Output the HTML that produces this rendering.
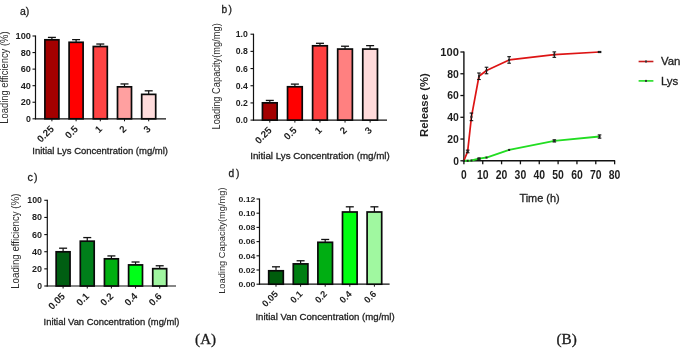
<!DOCTYPE html><html><head><meta charset="utf-8"><style>html,body{margin:0;padding:0;background:#fff;}svg{display:block;filter:blur(0.3px)}</style></head><body>
<svg width="685" height="348" viewBox="0 0 685 348">
<rect width="685" height="348" fill="#fff"/>
<line x1="35.5" y1="35.5" x2="35.5" y2="119.3" stroke="#111" stroke-width="1.2"/>
<line x1="34.9" y1="118.8" x2="166" y2="118.8" stroke="#111" stroke-width="1.2"/>
<line x1="32.5" y1="118.8" x2="35.5" y2="118.8" stroke="#111" stroke-width="1.1"/>
<text x="30.9" y="121.8" font-size="8.4" font-weight="bold" text-anchor="end" fill="#1e1e1e" font-family='"Liberation Sans", sans-serif' textLength="4.9" lengthAdjust="spacingAndGlyphs">0</text>
<line x1="32.5" y1="102.24" x2="35.5" y2="102.24" stroke="#111" stroke-width="1.1"/>
<text x="30.9" y="105.24" font-size="8.4" font-weight="bold" text-anchor="end" fill="#1e1e1e" font-family='"Liberation Sans", sans-serif' textLength="10.2" lengthAdjust="spacingAndGlyphs">20</text>
<line x1="32.5" y1="85.68" x2="35.5" y2="85.68" stroke="#111" stroke-width="1.1"/>
<text x="30.9" y="88.68" font-size="8.4" font-weight="bold" text-anchor="end" fill="#1e1e1e" font-family='"Liberation Sans", sans-serif' textLength="10.2" lengthAdjust="spacingAndGlyphs">40</text>
<line x1="32.5" y1="69.12" x2="35.5" y2="69.12" stroke="#111" stroke-width="1.1"/>
<text x="30.9" y="72.12" font-size="8.4" font-weight="bold" text-anchor="end" fill="#1e1e1e" font-family='"Liberation Sans", sans-serif' textLength="10.2" lengthAdjust="spacingAndGlyphs">60</text>
<line x1="32.5" y1="52.56" x2="35.5" y2="52.56" stroke="#111" stroke-width="1.1"/>
<text x="30.9" y="55.56" font-size="8.4" font-weight="bold" text-anchor="end" fill="#1e1e1e" font-family='"Liberation Sans", sans-serif' textLength="10.2" lengthAdjust="spacingAndGlyphs">80</text>
<line x1="32.5" y1="36.0" x2="35.5" y2="36.0" stroke="#111" stroke-width="1.1"/>
<text x="30.9" y="39.0" font-size="8.4" font-weight="bold" text-anchor="end" fill="#1e1e1e" font-family='"Liberation Sans", sans-serif' textLength="15.4" lengthAdjust="spacingAndGlyphs">100</text>
<rect x="44.9" y="39.80879999999999" width="14.0" height="78.9912" fill="#a30000" stroke="#0a0a0a" stroke-width="1.7"/>
<line x1="51.9" y1="37.40759999999999" x2="51.9" y2="39.80879999999999" stroke="#111" stroke-width="1.2"/>
<line x1="47.9" y1="37.40759999999999" x2="55.9" y2="37.40759999999999" stroke="#111" stroke-width="1.3"/>
<line x1="51.9" y1="118.8" x2="51.9" y2="121.3" stroke="#111" stroke-width="1"/>
<text x="54.5" y="129.6" font-size="9.8" font-weight="bold" text-anchor="end" fill="#1e1e1e" font-family='"Liberation Sans", sans-serif' transform="rotate(-45 54.5 129.6)">0.25</text>
<rect x="69.1" y="42.2928" width="14.0" height="76.5072" fill="#ff0000" stroke="#0a0a0a" stroke-width="1.7"/>
<line x1="76.1" y1="39.64319999999999" x2="76.1" y2="42.2928" stroke="#111" stroke-width="1.2"/>
<line x1="72.1" y1="39.64319999999999" x2="80.1" y2="39.64319999999999" stroke="#111" stroke-width="1.3"/>
<line x1="76.1" y1="118.8" x2="76.1" y2="121.3" stroke="#111" stroke-width="1"/>
<text x="78.69999999999999" y="129.6" font-size="9.8" font-weight="bold" text-anchor="end" fill="#1e1e1e" font-family='"Liberation Sans", sans-serif' transform="rotate(-45 78.69999999999999 129.6)">0.5</text>
<rect x="93.3" y="46.515600000000006" width="14.0" height="72.28439999999999" fill="#ff4444" stroke="#0a0a0a" stroke-width="1.7"/>
<line x1="100.3" y1="44.0316" x2="100.3" y2="46.515600000000006" stroke="#111" stroke-width="1.2"/>
<line x1="96.3" y1="44.0316" x2="104.3" y2="44.0316" stroke="#111" stroke-width="1.3"/>
<line x1="100.3" y1="118.8" x2="100.3" y2="121.3" stroke="#111" stroke-width="1"/>
<text x="102.89999999999999" y="129.6" font-size="9.8" font-weight="bold" text-anchor="end" fill="#1e1e1e" font-family='"Liberation Sans", sans-serif' transform="rotate(-45 102.89999999999999 129.6)">1</text>
<rect x="117.5" y="86.8392" width="14.0" height="31.960799999999992" fill="#ffa0a0" stroke="#0a0a0a" stroke-width="1.7"/>
<line x1="124.5" y1="83.9412" x2="124.5" y2="86.8392" stroke="#111" stroke-width="1.2"/>
<line x1="120.5" y1="83.9412" x2="128.5" y2="83.9412" stroke="#111" stroke-width="1.3"/>
<line x1="124.5" y1="118.8" x2="124.5" y2="121.3" stroke="#111" stroke-width="1"/>
<text x="127.1" y="129.6" font-size="9.8" font-weight="bold" text-anchor="end" fill="#1e1e1e" font-family='"Liberation Sans", sans-serif' transform="rotate(-45 127.1 129.6)">2</text>
<rect x="141.7" y="94.374" width="14.0" height="24.426000000000002" fill="#ffdcdc" stroke="#0a0a0a" stroke-width="1.7"/>
<line x1="148.7" y1="90.81360000000001" x2="148.7" y2="94.374" stroke="#111" stroke-width="1.2"/>
<line x1="144.7" y1="90.81360000000001" x2="152.7" y2="90.81360000000001" stroke="#111" stroke-width="1.3"/>
<line x1="148.7" y1="118.8" x2="148.7" y2="121.3" stroke="#111" stroke-width="1"/>
<text x="151.29999999999998" y="129.6" font-size="9.8" font-weight="bold" text-anchor="end" fill="#1e1e1e" font-family='"Liberation Sans", sans-serif' transform="rotate(-45 151.29999999999998 129.6)">3</text>
<line x1="253.5" y1="33.7" x2="253.5" y2="120.6" stroke="#111" stroke-width="1.2"/>
<line x1="252.9" y1="120.1" x2="387" y2="120.1" stroke="#111" stroke-width="1.2"/>
<line x1="250.5" y1="120.1" x2="253.5" y2="120.1" stroke="#111" stroke-width="1.1"/>
<text x="247.8" y="123.1" font-size="8.5" font-weight="bold" text-anchor="end" fill="#1e1e1e" font-family='"Liberation Sans", sans-serif' textLength="12.1" lengthAdjust="spacingAndGlyphs">0.0</text>
<line x1="250.5" y1="102.91999999999999" x2="253.5" y2="102.91999999999999" stroke="#111" stroke-width="1.1"/>
<text x="247.8" y="105.91999999999999" font-size="8.5" font-weight="bold" text-anchor="end" fill="#1e1e1e" font-family='"Liberation Sans", sans-serif' textLength="12.1" lengthAdjust="spacingAndGlyphs">0.2</text>
<line x1="250.5" y1="85.74" x2="253.5" y2="85.74" stroke="#111" stroke-width="1.1"/>
<text x="247.8" y="88.74" font-size="8.5" font-weight="bold" text-anchor="end" fill="#1e1e1e" font-family='"Liberation Sans", sans-serif' textLength="12.1" lengthAdjust="spacingAndGlyphs">0.4</text>
<line x1="250.5" y1="68.56" x2="253.5" y2="68.56" stroke="#111" stroke-width="1.1"/>
<text x="247.8" y="71.56" font-size="8.5" font-weight="bold" text-anchor="end" fill="#1e1e1e" font-family='"Liberation Sans", sans-serif' textLength="12.1" lengthAdjust="spacingAndGlyphs">0.6</text>
<line x1="250.5" y1="51.379999999999995" x2="253.5" y2="51.379999999999995" stroke="#111" stroke-width="1.1"/>
<text x="247.8" y="54.379999999999995" font-size="8.5" font-weight="bold" text-anchor="end" fill="#1e1e1e" font-family='"Liberation Sans", sans-serif' textLength="12.1" lengthAdjust="spacingAndGlyphs">0.8</text>
<line x1="250.5" y1="34.2" x2="253.5" y2="34.2" stroke="#111" stroke-width="1.1"/>
<text x="247.8" y="37.2" font-size="8.5" font-weight="bold" text-anchor="end" fill="#1e1e1e" font-family='"Liberation Sans", sans-serif' textLength="12.1" lengthAdjust="spacingAndGlyphs">1.0</text>
<rect x="262.45" y="102.83409999999999" width="14.7" height="17.265900000000002" fill="#a30000" stroke="#0a0a0a" stroke-width="1.7"/>
<line x1="269.8" y1="100.4289" x2="269.8" y2="102.83409999999999" stroke="#111" stroke-width="1.2"/>
<line x1="265.8" y1="100.4289" x2="273.8" y2="100.4289" stroke="#111" stroke-width="1.3"/>
<line x1="269.8" y1="120.1" x2="269.8" y2="122.6" stroke="#111" stroke-width="1"/>
<text x="272.40000000000003" y="130.9" font-size="9.8" font-weight="bold" text-anchor="end" fill="#1e1e1e" font-family='"Liberation Sans", sans-serif' transform="rotate(-45 272.40000000000003 130.9)">0.25</text>
<rect x="287.53" y="86.7708" width="14.7" height="33.3292" fill="#ff0000" stroke="#0a0a0a" stroke-width="1.7"/>
<line x1="294.88" y1="84.1079" x2="294.88" y2="86.7708" stroke="#111" stroke-width="1.2"/>
<line x1="290.88" y1="84.1079" x2="298.88" y2="84.1079" stroke="#111" stroke-width="1.3"/>
<line x1="294.88" y1="120.1" x2="294.88" y2="122.6" stroke="#111" stroke-width="1"/>
<text x="297.48" y="130.9" font-size="9.8" font-weight="bold" text-anchor="end" fill="#1e1e1e" font-family='"Liberation Sans", sans-serif' transform="rotate(-45 297.48 130.9)">0.5</text>
<rect x="312.61" y="45.79650000000001" width="14.7" height="74.30349999999999" fill="#ff4040" stroke="#0a0a0a" stroke-width="1.7"/>
<line x1="319.96000000000004" y1="43.305400000000006" x2="319.96000000000004" y2="45.79650000000001" stroke="#111" stroke-width="1.2"/>
<line x1="315.96000000000004" y1="43.305400000000006" x2="323.96000000000004" y2="43.305400000000006" stroke="#111" stroke-width="1.3"/>
<line x1="319.96000000000004" y1="120.1" x2="319.96000000000004" y2="122.6" stroke="#111" stroke-width="1"/>
<text x="322.56000000000006" y="130.9" font-size="9.8" font-weight="bold" text-anchor="end" fill="#1e1e1e" font-family='"Liberation Sans", sans-serif' transform="rotate(-45 322.56000000000006 130.9)">1</text>
<rect x="337.69" y="49.06070000000001" width="14.7" height="71.03929999999998" fill="#ff8080" stroke="#0a0a0a" stroke-width="1.7"/>
<line x1="345.04" y1="46.226" x2="345.04" y2="49.06070000000001" stroke="#111" stroke-width="1.2"/>
<line x1="341.04" y1="46.226" x2="349.04" y2="46.226" stroke="#111" stroke-width="1.3"/>
<line x1="345.04" y1="120.1" x2="345.04" y2="122.6" stroke="#111" stroke-width="1"/>
<text x="347.64000000000004" y="130.9" font-size="9.8" font-weight="bold" text-anchor="end" fill="#1e1e1e" font-family='"Liberation Sans", sans-serif' transform="rotate(-45 347.64000000000004 130.9)">2</text>
<rect x="362.77" y="49.06070000000001" width="14.7" height="71.03929999999998" fill="#ffdada" stroke="#0a0a0a" stroke-width="1.7"/>
<line x1="370.12" y1="45.624700000000004" x2="370.12" y2="49.06070000000001" stroke="#111" stroke-width="1.2"/>
<line x1="366.12" y1="45.624700000000004" x2="374.12" y2="45.624700000000004" stroke="#111" stroke-width="1.3"/>
<line x1="370.12" y1="120.1" x2="370.12" y2="122.6" stroke="#111" stroke-width="1"/>
<text x="372.72" y="130.9" font-size="9.8" font-weight="bold" text-anchor="end" fill="#1e1e1e" font-family='"Liberation Sans", sans-serif' transform="rotate(-45 372.72 130.9)">3</text>
<line x1="47.3" y1="199.8" x2="47.3" y2="286.5" stroke="#111" stroke-width="1.2"/>
<line x1="46.699999999999996" y1="286" x2="176" y2="286" stroke="#111" stroke-width="1.2"/>
<line x1="44.3" y1="286.0" x2="47.3" y2="286.0" stroke="#111" stroke-width="1.1"/>
<text x="42" y="289.0" font-size="8.5" font-weight="bold" text-anchor="end" fill="#1e1e1e" font-family='"Liberation Sans", sans-serif' textLength="4.8" lengthAdjust="spacingAndGlyphs">0</text>
<line x1="44.3" y1="268.86" x2="47.3" y2="268.86" stroke="#111" stroke-width="1.1"/>
<text x="42" y="271.86" font-size="8.5" font-weight="bold" text-anchor="end" fill="#1e1e1e" font-family='"Liberation Sans", sans-serif' textLength="10" lengthAdjust="spacingAndGlyphs">20</text>
<line x1="44.3" y1="251.72" x2="47.3" y2="251.72" stroke="#111" stroke-width="1.1"/>
<text x="42" y="254.72" font-size="8.5" font-weight="bold" text-anchor="end" fill="#1e1e1e" font-family='"Liberation Sans", sans-serif' textLength="10" lengthAdjust="spacingAndGlyphs">40</text>
<line x1="44.3" y1="234.58" x2="47.3" y2="234.58" stroke="#111" stroke-width="1.1"/>
<text x="42" y="237.58" font-size="8.5" font-weight="bold" text-anchor="end" fill="#1e1e1e" font-family='"Liberation Sans", sans-serif' textLength="10" lengthAdjust="spacingAndGlyphs">60</text>
<line x1="44.3" y1="217.44" x2="47.3" y2="217.44" stroke="#111" stroke-width="1.1"/>
<text x="42" y="220.44" font-size="8.5" font-weight="bold" text-anchor="end" fill="#1e1e1e" font-family='"Liberation Sans", sans-serif' textLength="10" lengthAdjust="spacingAndGlyphs">80</text>
<line x1="44.3" y1="200.3" x2="47.3" y2="200.3" stroke="#111" stroke-width="1.1"/>
<text x="42" y="203.3" font-size="8.5" font-weight="bold" text-anchor="end" fill="#1e1e1e" font-family='"Liberation Sans", sans-serif' textLength="14.7" lengthAdjust="spacingAndGlyphs">100</text>
<rect x="56.15" y="251.8057" width="13.9" height="34.1943" fill="#005e12" stroke="#0a0a0a" stroke-width="1.7"/>
<line x1="63.1" y1="248.2063" x2="63.1" y2="251.8057" stroke="#111" stroke-width="1.2"/>
<line x1="59.1" y1="248.2063" x2="67.1" y2="248.2063" stroke="#111" stroke-width="1.3"/>
<line x1="63.1" y1="286" x2="63.1" y2="288.5" stroke="#111" stroke-width="1"/>
<text x="65.7" y="296.8" font-size="9.8" font-weight="bold" text-anchor="end" fill="#1e1e1e" font-family='"Liberation Sans", sans-serif' transform="rotate(-45 65.7 296.8)">0.05</text>
<rect x="80.3" y="241.1789" width="13.9" height="44.8211" fill="#007f1a" stroke="#0a0a0a" stroke-width="1.7"/>
<line x1="87.25" y1="237.5795" x2="87.25" y2="241.1789" stroke="#111" stroke-width="1.2"/>
<line x1="83.25" y1="237.5795" x2="91.25" y2="237.5795" stroke="#111" stroke-width="1.3"/>
<line x1="87.25" y1="286" x2="87.25" y2="288.5" stroke="#111" stroke-width="1"/>
<text x="89.85" y="296.8" font-size="9.8" font-weight="bold" text-anchor="end" fill="#1e1e1e" font-family='"Liberation Sans", sans-serif' transform="rotate(-45 89.85 296.8)">0.1</text>
<rect x="104.45" y="258.8331" width="13.9" height="27.1669" fill="#00b010" stroke="#0a0a0a" stroke-width="1.7"/>
<line x1="111.4" y1="255.9193" x2="111.4" y2="258.8331" stroke="#111" stroke-width="1.2"/>
<line x1="107.4" y1="255.9193" x2="115.4" y2="255.9193" stroke="#111" stroke-width="1.3"/>
<line x1="111.4" y1="286" x2="111.4" y2="288.5" stroke="#111" stroke-width="1"/>
<text x="114.0" y="296.8" font-size="9.8" font-weight="bold" text-anchor="end" fill="#1e1e1e" font-family='"Liberation Sans", sans-serif' transform="rotate(-45 114.0 296.8)">0.2</text>
<rect x="128.6" y="264.9178" width="13.9" height="21.0822" fill="#00ff18" stroke="#0a0a0a" stroke-width="1.7"/>
<line x1="135.54999999999998" y1="262.004" x2="135.54999999999998" y2="264.9178" stroke="#111" stroke-width="1.2"/>
<line x1="131.54999999999998" y1="262.004" x2="139.54999999999998" y2="262.004" stroke="#111" stroke-width="1.3"/>
<line x1="135.54999999999998" y1="286" x2="135.54999999999998" y2="288.5" stroke="#111" stroke-width="1"/>
<text x="138.14999999999998" y="296.8" font-size="9.8" font-weight="bold" text-anchor="end" fill="#1e1e1e" font-family='"Liberation Sans", sans-serif' transform="rotate(-45 138.14999999999998 296.8)">0.4</text>
<rect x="152.75" y="268.6886" width="13.9" height="17.311399999999992" fill="#a0f5a0" stroke="#0a0a0a" stroke-width="1.7"/>
<line x1="159.7" y1="265.7748" x2="159.7" y2="268.6886" stroke="#111" stroke-width="1.2"/>
<line x1="155.7" y1="265.7748" x2="163.7" y2="265.7748" stroke="#111" stroke-width="1.3"/>
<line x1="159.7" y1="286" x2="159.7" y2="288.5" stroke="#111" stroke-width="1"/>
<text x="162.29999999999998" y="296.8" font-size="9.8" font-weight="bold" text-anchor="end" fill="#1e1e1e" font-family='"Liberation Sans", sans-serif' transform="rotate(-45 162.29999999999998 296.8)">0.6</text>
<line x1="259.5" y1="198.5" x2="259.5" y2="284.7" stroke="#111" stroke-width="1.2"/>
<line x1="258.9" y1="284.2" x2="389.6" y2="284.2" stroke="#111" stroke-width="1.2"/>
<line x1="256.5" y1="284.2" x2="259.5" y2="284.2" stroke="#111" stroke-width="1.1"/>
<text x="255.3" y="287.0" font-size="8" font-weight="bold" text-anchor="end" fill="#1e1e1e" font-family='"Liberation Sans", sans-serif' textLength="16.9" lengthAdjust="spacingAndGlyphs">0.00</text>
<line x1="256.5" y1="270.0" x2="259.5" y2="270.0" stroke="#111" stroke-width="1.1"/>
<text x="255.3" y="272.8" font-size="8" font-weight="bold" text-anchor="end" fill="#1e1e1e" font-family='"Liberation Sans", sans-serif' textLength="16.9" lengthAdjust="spacingAndGlyphs">0.02</text>
<line x1="256.5" y1="255.79999999999998" x2="259.5" y2="255.79999999999998" stroke="#111" stroke-width="1.1"/>
<text x="255.3" y="258.59999999999997" font-size="8" font-weight="bold" text-anchor="end" fill="#1e1e1e" font-family='"Liberation Sans", sans-serif' textLength="16.9" lengthAdjust="spacingAndGlyphs">0.04</text>
<line x1="256.5" y1="241.6" x2="259.5" y2="241.6" stroke="#111" stroke-width="1.1"/>
<text x="255.3" y="244.4" font-size="8" font-weight="bold" text-anchor="end" fill="#1e1e1e" font-family='"Liberation Sans", sans-serif' textLength="16.9" lengthAdjust="spacingAndGlyphs">0.06</text>
<line x1="256.5" y1="227.4" x2="259.5" y2="227.4" stroke="#111" stroke-width="1.1"/>
<text x="255.3" y="230.20000000000002" font-size="8" font-weight="bold" text-anchor="end" fill="#1e1e1e" font-family='"Liberation Sans", sans-serif' textLength="16.9" lengthAdjust="spacingAndGlyphs">0.08</text>
<line x1="256.5" y1="213.2" x2="259.5" y2="213.2" stroke="#111" stroke-width="1.1"/>
<text x="255.3" y="216.0" font-size="8" font-weight="bold" text-anchor="end" fill="#1e1e1e" font-family='"Liberation Sans", sans-serif' textLength="16.9" lengthAdjust="spacingAndGlyphs">0.10</text>
<line x1="256.5" y1="199.0" x2="259.5" y2="199.0" stroke="#111" stroke-width="1.1"/>
<text x="255.3" y="201.8" font-size="8" font-weight="bold" text-anchor="end" fill="#1e1e1e" font-family='"Liberation Sans", sans-serif' textLength="16.9" lengthAdjust="spacingAndGlyphs">0.12</text>
<rect x="268.7" y="270.781" width="14.6" height="13.418999999999983" fill="#005c0c" stroke="#0a0a0a" stroke-width="1.7"/>
<line x1="276.0" y1="266.805" x2="276.0" y2="270.781" stroke="#111" stroke-width="1.2"/>
<line x1="272.0" y1="266.805" x2="280.0" y2="266.805" stroke="#111" stroke-width="1.3"/>
<line x1="276.0" y1="284.2" x2="276.0" y2="286.7" stroke="#111" stroke-width="1"/>
<text x="278.6" y="294.7" font-size="9.3" font-weight="bold" text-anchor="end" fill="#1e1e1e" font-family='"Liberation Sans", sans-serif' transform="rotate(-45 278.6 294.7)">0.05</text>
<rect x="293.3" y="263.894" width="14.6" height="20.305999999999983" fill="#007f12" stroke="#0a0a0a" stroke-width="1.7"/>
<line x1="300.6" y1="260.77" x2="300.6" y2="263.894" stroke="#111" stroke-width="1.2"/>
<line x1="296.6" y1="260.77" x2="304.6" y2="260.77" stroke="#111" stroke-width="1.3"/>
<line x1="300.6" y1="284.2" x2="300.6" y2="286.7" stroke="#111" stroke-width="1"/>
<text x="303.20000000000005" y="294.7" font-size="9.3" font-weight="bold" text-anchor="end" fill="#1e1e1e" font-family='"Liberation Sans", sans-serif' transform="rotate(-45 303.20000000000005 294.7)">0.1</text>
<rect x="317.9" y="242.31" width="14.6" height="41.889999999999986" fill="#00ae12" stroke="#0a0a0a" stroke-width="1.7"/>
<line x1="325.2" y1="239.47" x2="325.2" y2="242.31" stroke="#111" stroke-width="1.2"/>
<line x1="321.2" y1="239.47" x2="329.2" y2="239.47" stroke="#111" stroke-width="1.3"/>
<line x1="325.2" y1="284.2" x2="325.2" y2="286.7" stroke="#111" stroke-width="1"/>
<text x="327.8" y="294.7" font-size="9.3" font-weight="bold" text-anchor="end" fill="#1e1e1e" font-family='"Liberation Sans", sans-serif' transform="rotate(-45 327.8 294.7)">0.2</text>
<rect x="342.5" y="211.993" width="14.6" height="72.207" fill="#00ff10" stroke="#0a0a0a" stroke-width="1.7"/>
<line x1="349.8" y1="206.81" x2="349.8" y2="211.993" stroke="#111" stroke-width="1.2"/>
<line x1="345.8" y1="206.81" x2="353.8" y2="206.81" stroke="#111" stroke-width="1.3"/>
<line x1="349.8" y1="284.2" x2="349.8" y2="286.7" stroke="#111" stroke-width="1"/>
<text x="352.40000000000003" y="294.7" font-size="9.3" font-weight="bold" text-anchor="end" fill="#1e1e1e" font-family='"Liberation Sans", sans-serif' transform="rotate(-45 352.40000000000003 294.7)">0.4</text>
<rect x="367.09999999999997" y="211.993" width="14.6" height="72.207" fill="#a0f8a0" stroke="#0a0a0a" stroke-width="1.7"/>
<line x1="374.4" y1="206.81" x2="374.4" y2="211.993" stroke="#111" stroke-width="1.2"/>
<line x1="370.4" y1="206.81" x2="378.4" y2="206.81" stroke="#111" stroke-width="1.3"/>
<line x1="374.4" y1="284.2" x2="374.4" y2="286.7" stroke="#111" stroke-width="1"/>
<text x="377.0" y="294.7" font-size="9.3" font-weight="bold" text-anchor="end" fill="#1e1e1e" font-family='"Liberation Sans", sans-serif' transform="rotate(-45 377.0 294.7)">0.6</text>
<text x="20" y="14.8" font-size="10.5" font-weight="normal" text-anchor="start" fill="#1e1e1e" font-family='"Liberation Sans", sans-serif' stroke="#1e1e1e" stroke-width="0.3">a)</text>
<text x="221.4" y="12.5" font-size="10.2" font-weight="normal" text-anchor="start" fill="#1e1e1e" font-family='"Liberation Sans", sans-serif' stroke="#1e1e1e" stroke-width="0.3">b</text>
<text x="228.6" y="12.5" font-size="10.2" font-weight="normal" text-anchor="start" fill="#1e1e1e" font-family='"Liberation Sans", sans-serif' stroke="#1e1e1e" stroke-width="0.3">)</text>
<text x="27.6" y="180.5" font-size="10.8" font-weight="normal" text-anchor="start" fill="#1e1e1e" font-family='"Liberation Sans", sans-serif' stroke="#1e1e1e" stroke-width="0.3">c</text>
<text x="34.1" y="180.5" font-size="10.5" font-weight="normal" text-anchor="start" fill="#1e1e1e" font-family='"Liberation Sans", sans-serif' stroke="#1e1e1e" stroke-width="0.3">)</text>
<text x="228.4" y="176.9" font-size="10.2" font-weight="normal" text-anchor="start" fill="#1e1e1e" font-family='"Liberation Sans", sans-serif' stroke="#1e1e1e" stroke-width="0.3">d</text>
<text x="235.9" y="176.9" font-size="10.2" font-weight="normal" text-anchor="start" fill="#1e1e1e" font-family='"Liberation Sans", sans-serif' stroke="#1e1e1e" stroke-width="0.3">)</text>
<text x="7.9" y="77.6" font-size="10" font-weight="normal" text-anchor="middle" fill="#2a2a2a" font-family='"Liberation Sans", sans-serif' textLength="92.3" lengthAdjust="spacingAndGlyphs" transform="rotate(-90 7.9 77.6)">Loading efficiency (%)</text>
<text x="220.1" y="76.35" font-size="10.4" font-weight="normal" text-anchor="middle" fill="#2a2a2a" font-family='"Liberation Sans", sans-serif' textLength="106.3" lengthAdjust="spacingAndGlyphs" transform="rotate(-90 220.1 76.35)">Loading Capacity(mg/mg)</text>
<text x="19.4" y="241.2" font-size="10" font-weight="normal" text-anchor="middle" fill="#2a2a2a" font-family='"Liberation Sans", sans-serif' textLength="95.2" lengthAdjust="spacingAndGlyphs" transform="rotate(-90 19.4 241.2)">Loading efficiency (%)</text>
<text x="225.5" y="240.65" font-size="9.5" font-weight="normal" text-anchor="middle" fill="#2a2a2a" font-family='"Liberation Sans", sans-serif' textLength="106.3" lengthAdjust="spacingAndGlyphs" transform="rotate(-90 225.5 240.65)">Loading Capacity(mg/mg)</text>
<text x="32.3" y="153.6" font-size="9.7" font-weight="normal" text-anchor="start" fill="#1e1e1e" font-family='"Liberation Sans", sans-serif' textLength="135.7" lengthAdjust="spacingAndGlyphs" stroke="#1e1e1e" stroke-width="0.3">Initial Lys Concentration (mg/ml)</text>
<text x="250.2" y="159.2" font-size="9.7" font-weight="normal" text-anchor="start" fill="#1e1e1e" font-family='"Liberation Sans", sans-serif' textLength="139.6" lengthAdjust="spacingAndGlyphs" stroke="#1e1e1e" stroke-width="0.3">Initial Lys Concentration (mg/ml)</text>
<text x="43.6" y="324.7" font-size="9.7" font-weight="normal" text-anchor="start" fill="#1e1e1e" font-family='"Liberation Sans", sans-serif' textLength="135.9" lengthAdjust="spacingAndGlyphs" stroke="#1e1e1e" stroke-width="0.3">Initial Van Concentration (mg/ml)</text>
<text x="255.4" y="320.4" font-size="9.7" font-weight="normal" text-anchor="start" fill="#1e1e1e" font-family='"Liberation Sans", sans-serif' textLength="139.3" lengthAdjust="spacingAndGlyphs" stroke="#1e1e1e" stroke-width="0.3">Initial Van Concentration (mg/ml)</text>
<text x="195.1" y="343.9" font-size="15" font-weight="normal" text-anchor="start" fill="#1a1a1a" font-family='"Liberation Serif", serif' textLength="21" lengthAdjust="spacingAndGlyphs" stroke="#1a1a1a" stroke-width="0.3">(A)</text>
<text x="556.5" y="343.8" font-size="15" font-weight="normal" text-anchor="start" fill="#1a1a1a" font-family='"Liberation Serif", serif' textLength="20.3" lengthAdjust="spacingAndGlyphs" stroke="#1a1a1a" stroke-width="0.3">(B)</text>
<line x1="463.9" y1="51.5" x2="463.9" y2="161.4" stroke="#111" stroke-width="1.4"/>
<line x1="463.29999999999995" y1="160.8" x2="615.12" y2="160.8" stroke="#111" stroke-width="1.4"/>
<line x1="460.4" y1="160.8" x2="463.9" y2="160.8" stroke="#111" stroke-width="1.3"/>
<text x="458.9" y="164.70000000000002" font-size="11.3" font-weight="bold" text-anchor="end" fill="#1e1e1e" font-family='"Liberation Sans", sans-serif' textLength="5.7" lengthAdjust="spacingAndGlyphs">0</text>
<line x1="460.4" y1="139.04000000000002" x2="463.9" y2="139.04000000000002" stroke="#111" stroke-width="1.3"/>
<text x="458.9" y="142.94000000000003" font-size="11.3" font-weight="bold" text-anchor="end" fill="#1e1e1e" font-family='"Liberation Sans", sans-serif' textLength="11.6" lengthAdjust="spacingAndGlyphs">20</text>
<line x1="460.4" y1="117.28" x2="463.9" y2="117.28" stroke="#111" stroke-width="1.3"/>
<text x="458.9" y="121.18" font-size="11.3" font-weight="bold" text-anchor="end" fill="#1e1e1e" font-family='"Liberation Sans", sans-serif' textLength="11.6" lengthAdjust="spacingAndGlyphs">40</text>
<line x1="460.4" y1="95.52000000000001" x2="463.9" y2="95.52000000000001" stroke="#111" stroke-width="1.3"/>
<text x="458.9" y="99.42000000000002" font-size="11.3" font-weight="bold" text-anchor="end" fill="#1e1e1e" font-family='"Liberation Sans", sans-serif' textLength="11.6" lengthAdjust="spacingAndGlyphs">60</text>
<line x1="460.4" y1="73.76" x2="463.9" y2="73.76" stroke="#111" stroke-width="1.3"/>
<text x="458.9" y="77.66000000000001" font-size="11.3" font-weight="bold" text-anchor="end" fill="#1e1e1e" font-family='"Liberation Sans", sans-serif' textLength="11.6" lengthAdjust="spacingAndGlyphs">80</text>
<line x1="460.4" y1="52.0" x2="463.9" y2="52.0" stroke="#111" stroke-width="1.3"/>
<text x="458.9" y="55.9" font-size="11.3" font-weight="bold" text-anchor="end" fill="#1e1e1e" font-family='"Liberation Sans", sans-serif' textLength="18.6" lengthAdjust="spacingAndGlyphs">100</text>
<line x1="463.9" y1="160.8" x2="463.9" y2="164.3" stroke="#111" stroke-width="1.3"/>
<text x="463.9" y="179.0" font-size="12" font-weight="bold" text-anchor="middle" fill="#1e1e1e" font-family='"Liberation Sans", sans-serif' textLength="5.7" lengthAdjust="spacingAndGlyphs">0</text>
<line x1="482.73999999999995" y1="160.8" x2="482.73999999999995" y2="164.3" stroke="#111" stroke-width="1.3"/>
<text x="482.73999999999995" y="179.0" font-size="12" font-weight="bold" text-anchor="middle" fill="#1e1e1e" font-family='"Liberation Sans", sans-serif' textLength="11.6" lengthAdjust="spacingAndGlyphs">10</text>
<line x1="501.58" y1="160.8" x2="501.58" y2="164.3" stroke="#111" stroke-width="1.3"/>
<text x="501.58" y="179.0" font-size="12" font-weight="bold" text-anchor="middle" fill="#1e1e1e" font-family='"Liberation Sans", sans-serif' textLength="11.6" lengthAdjust="spacingAndGlyphs">20</text>
<line x1="520.42" y1="160.8" x2="520.42" y2="164.3" stroke="#111" stroke-width="1.3"/>
<text x="520.42" y="179.0" font-size="12" font-weight="bold" text-anchor="middle" fill="#1e1e1e" font-family='"Liberation Sans", sans-serif' textLength="11.6" lengthAdjust="spacingAndGlyphs">30</text>
<line x1="539.26" y1="160.8" x2="539.26" y2="164.3" stroke="#111" stroke-width="1.3"/>
<text x="539.26" y="179.0" font-size="12" font-weight="bold" text-anchor="middle" fill="#1e1e1e" font-family='"Liberation Sans", sans-serif' textLength="11.6" lengthAdjust="spacingAndGlyphs">40</text>
<line x1="558.0999999999999" y1="160.8" x2="558.0999999999999" y2="164.3" stroke="#111" stroke-width="1.3"/>
<text x="558.0999999999999" y="179.0" font-size="12" font-weight="bold" text-anchor="middle" fill="#1e1e1e" font-family='"Liberation Sans", sans-serif' textLength="11.6" lengthAdjust="spacingAndGlyphs">50</text>
<line x1="576.9399999999999" y1="160.8" x2="576.9399999999999" y2="164.3" stroke="#111" stroke-width="1.3"/>
<text x="576.9399999999999" y="179.0" font-size="12" font-weight="bold" text-anchor="middle" fill="#1e1e1e" font-family='"Liberation Sans", sans-serif' textLength="11.6" lengthAdjust="spacingAndGlyphs">60</text>
<line x1="595.78" y1="160.8" x2="595.78" y2="164.3" stroke="#111" stroke-width="1.3"/>
<text x="595.78" y="179.0" font-size="12" font-weight="bold" text-anchor="middle" fill="#1e1e1e" font-family='"Liberation Sans", sans-serif' textLength="11.6" lengthAdjust="spacingAndGlyphs">70</text>
<line x1="614.62" y1="160.8" x2="614.62" y2="164.3" stroke="#111" stroke-width="1.3"/>
<text x="614.62" y="179.0" font-size="12" font-weight="bold" text-anchor="middle" fill="#1e1e1e" font-family='"Liberation Sans", sans-serif' textLength="11.6" lengthAdjust="spacingAndGlyphs">80</text>
<text x="428.3" y="105.05" font-size="10.6" font-weight="bold" text-anchor="middle" fill="#1e1e1e" font-family='"Liberation Sans", sans-serif' textLength="63.7" lengthAdjust="spacingAndGlyphs" transform="rotate(-90 428.3 105.05)">Release (%)</text>
<text x="519.4" y="201.8" font-size="10.8" font-weight="normal" text-anchor="start" fill="#1e1e1e" font-family='"Liberation Sans", sans-serif' textLength="40.3" lengthAdjust="spacingAndGlyphs" stroke="#1e1e1e" stroke-width="0.3">Time (h)</text>
<polyline points="463.90,160.80 467.67,160.80 471.44,160.47 478.97,158.62 486.51,157.54 509.12,149.92 554.33,140.89 599.55,136.54" fill="none" stroke="#22dd22" stroke-width="1.9" stroke-linejoin="round"/>
<polyline points="463.90,160.80 467.67,151.44 471.44,116.84 478.97,76.26 486.51,70.50 509.12,59.94 554.33,54.61 599.55,52.00" fill="none" stroke="#dd1414" stroke-width="1.7" stroke-linejoin="round"/>
<rect x="462.9" y="159.8" width="2" height="2" fill="#222"/>
<rect x="466.66799999999995" y="159.8" width="2" height="2" fill="#222"/>
<rect x="470.436" y="159.4736" width="2" height="2" fill="#222"/>
<line x1="478.972" y1="158.08" x2="478.972" y2="159.168" stroke="#111" stroke-width="1.1"/>
<line x1="477.17199999999997" y1="158.08" x2="480.772" y2="158.08" stroke="#111" stroke-width="1.1"/>
<line x1="477.17199999999997" y1="159.168" x2="480.772" y2="159.168" stroke="#111" stroke-width="1.1"/>
<rect x="477.972" y="157.62400000000002" width="2" height="2" fill="#222"/>
<rect x="485.508" y="156.536" width="2" height="2" fill="#222"/>
<rect x="508.116" y="148.92000000000002" width="2" height="2" fill="#222"/>
<line x1="554.332" y1="139.8016" x2="554.332" y2="141.9776" stroke="#111" stroke-width="1.1"/>
<line x1="552.532" y1="139.8016" x2="556.132" y2="139.8016" stroke="#111" stroke-width="1.1"/>
<line x1="552.532" y1="141.9776" x2="556.132" y2="141.9776" stroke="#111" stroke-width="1.1"/>
<rect x="553.332" y="139.8896" width="2" height="2" fill="#222"/>
<line x1="599.548" y1="134.90560000000002" x2="599.548" y2="138.1696" stroke="#111" stroke-width="1.1"/>
<line x1="597.748" y1="134.90560000000002" x2="601.348" y2="134.90560000000002" stroke="#111" stroke-width="1.1"/>
<line x1="597.748" y1="138.1696" x2="601.348" y2="138.1696" stroke="#111" stroke-width="1.1"/>
<rect x="598.548" y="135.5376" width="2" height="2" fill="#222"/>
<rect x="462.9" y="159.8" width="2" height="2" fill="#222"/>
<line x1="467.66799999999995" y1="150.13760000000002" x2="467.66799999999995" y2="152.74880000000002" stroke="#111" stroke-width="1.1"/>
<line x1="465.86799999999994" y1="150.13760000000002" x2="469.46799999999996" y2="150.13760000000002" stroke="#111" stroke-width="1.1"/>
<line x1="465.86799999999994" y1="152.74880000000002" x2="469.46799999999996" y2="152.74880000000002" stroke="#111" stroke-width="1.1"/>
<rect x="466.66799999999995" y="150.44320000000002" width="2" height="2" fill="#222"/>
<line x1="471.436" y1="113.0368" x2="471.436" y2="120.65280000000001" stroke="#111" stroke-width="1.1"/>
<line x1="469.63599999999997" y1="113.0368" x2="473.236" y2="113.0368" stroke="#111" stroke-width="1.1"/>
<line x1="469.63599999999997" y1="120.65280000000001" x2="473.236" y2="120.65280000000001" stroke="#111" stroke-width="1.1"/>
<rect x="470.436" y="115.8448" width="2" height="2" fill="#222"/>
<line x1="478.972" y1="72.9984" x2="478.972" y2="79.52640000000001" stroke="#111" stroke-width="1.1"/>
<line x1="477.17199999999997" y1="72.9984" x2="480.772" y2="72.9984" stroke="#111" stroke-width="1.1"/>
<line x1="477.17199999999997" y1="79.52640000000001" x2="480.772" y2="79.52640000000001" stroke="#111" stroke-width="1.1"/>
<rect x="477.972" y="75.2624" width="2" height="2" fill="#222"/>
<line x1="486.508" y1="67.232" x2="486.508" y2="73.76" stroke="#111" stroke-width="1.1"/>
<line x1="484.70799999999997" y1="67.232" x2="488.308" y2="67.232" stroke="#111" stroke-width="1.1"/>
<line x1="484.70799999999997" y1="73.76" x2="488.308" y2="73.76" stroke="#111" stroke-width="1.1"/>
<rect x="485.508" y="69.49600000000001" width="2" height="2" fill="#222"/>
<line x1="509.116" y1="56.678399999999996" x2="509.116" y2="63.2064" stroke="#111" stroke-width="1.1"/>
<line x1="507.316" y1="56.678399999999996" x2="510.916" y2="56.678399999999996" stroke="#111" stroke-width="1.1"/>
<line x1="507.316" y1="63.2064" x2="510.916" y2="63.2064" stroke="#111" stroke-width="1.1"/>
<rect x="508.116" y="58.942400000000006" width="2" height="2" fill="#222"/>
<line x1="554.332" y1="51.89120000000001" x2="554.332" y2="57.33120000000001" stroke="#111" stroke-width="1.1"/>
<line x1="552.532" y1="51.89120000000001" x2="556.132" y2="51.89120000000001" stroke="#111" stroke-width="1.1"/>
<line x1="552.532" y1="57.33120000000001" x2="556.132" y2="57.33120000000001" stroke="#111" stroke-width="1.1"/>
<rect x="553.332" y="53.61120000000001" width="2" height="2" fill="#222"/>
<line x1="599.548" y1="51.456" x2="599.548" y2="52.544" stroke="#111" stroke-width="1.1"/>
<line x1="597.748" y1="51.456" x2="601.348" y2="51.456" stroke="#111" stroke-width="1.1"/>
<line x1="597.748" y1="52.544" x2="601.348" y2="52.544" stroke="#111" stroke-width="1.1"/>
<rect x="598.548" y="51.0" width="2" height="2" fill="#222"/>
<line x1="638.6" y1="61.5" x2="653.4" y2="61.5" stroke="#c81c1c" stroke-width="1.6"/>
<rect x="645" y="60.5" width="2" height="2" fill="#333"/>
<line x1="638.6" y1="80.9" x2="653.4" y2="80.9" stroke="#22dd22" stroke-width="1.6"/>
<rect x="645" y="79.9" width="2" height="2" fill="#333"/>
<text x="660.9" y="64.8" font-size="11.4" font-weight="normal" text-anchor="start" fill="#1e1e1e" font-family='"Liberation Sans", sans-serif' textLength="19.5" lengthAdjust="spacingAndGlyphs" stroke="#1e1e1e" stroke-width="0.3">Van</text>
<text x="660.9" y="84.5" font-size="11.4" font-weight="normal" text-anchor="start" fill="#1e1e1e" font-family='"Liberation Sans", sans-serif' textLength="17.5" lengthAdjust="spacingAndGlyphs" stroke="#1e1e1e" stroke-width="0.3">Lys</text>
</svg></body></html>
